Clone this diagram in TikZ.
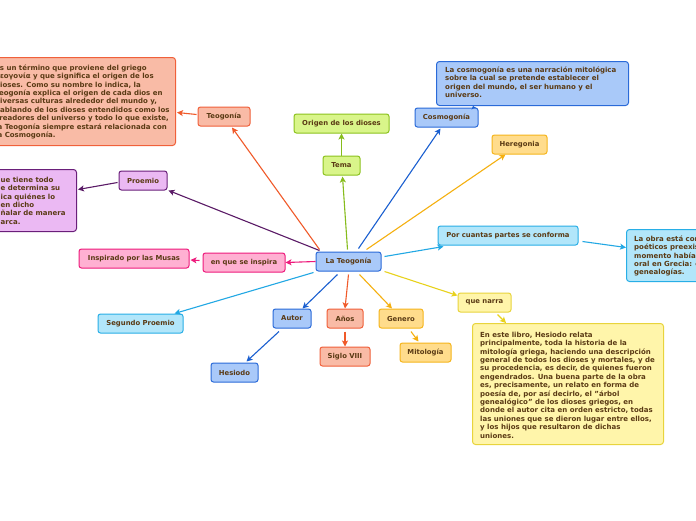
\documentclass[tikz,border=0pt]{standalone}
\usepackage{fontspec}
\setmainfont{DejaVu Sans}
\usetikzlibrary{calc,arrows.meta}
\definecolor{txt}{HTML}{5A3A14}
\definecolor{blF}{HTML}{A9C9F9}\definecolor{blD}{HTML}{2A6AD8}\definecolor{blA}{HTML}{1A5FD0}
\definecolor{saF}{HTML}{F9BBA6}\definecolor{saD}{HTML}{F0603A}\definecolor{saA}{HTML}{F05A2A}
\definecolor{grF}{HTML}{D9F58A}\definecolor{grD}{HTML}{8CC21E}\definecolor{grA}{HTML}{86BC1C}
\definecolor{puF}{HTML}{EBB9F3}\definecolor{puD}{HTML}{6A1F7A}\definecolor{puA}{HTML}{5A1A66}
\definecolor{piF}{HTML}{FFB0D2}\definecolor{piD}{HTML}{EE1A7C}\definecolor{piA}{HTML}{EE1A7C}
\definecolor{cyF}{HTML}{B2E6FA}\definecolor{cyD}{HTML}{28AEE6}\definecolor{cyA}{HTML}{22A8E4}
\definecolor{orF}{HTML}{FFDC8C}\definecolor{orD}{HTML}{F5B51C}\definecolor{orA}{HTML}{F5B010}
\definecolor{yeF}{HTML}{FFF5AA}\definecolor{yeD}{HTML}{E8D43C}\definecolor{yeA}{HTML}{E8D21C}
\tikzset{
  lbl/.style={rounded corners=2.5pt, line width=1pt, inner sep=0pt, text=txt,
    minimum height=19pt, font=\fontsize{6.85}{8}\selectfont\bfseries},
  bigbox/.style={rounded corners=3pt, line width=1pt, inner sep=0pt, anchor=north west},
  bodytext/.style={anchor=north west, inner sep=0pt, align=left, text=txt,
    font=\fontsize{7}{8.4}\selectfont\bfseries},
  arr/.style={-{Stealth[length=6pt,width=6pt,inset=1.5pt]}, line width=1.1pt},
  arrshort/.style={-{Stealth[length=3pt,width=5pt,inset=0.8pt]}, line width=1.1pt},
  bl/.style={lbl, fill=blF, draw=blD},
  sa/.style={lbl, fill=saF, draw=saD},
  gr/.style={lbl, fill=grF, draw=grD},
  pu/.style={lbl, fill=puF, draw=puD},
  pi/.style={lbl, fill=piF, draw=piD},
  cy/.style={lbl, fill=cyF, draw=cyD},
  or/.style={lbl, fill=orF, draw=orD},
  ye/.style={lbl, fill=yeF, draw=yeD}
}
\begin{document}
\begin{tikzpicture}[x=1pt,y=-1pt]
\useasboundingbox (0,0) rectangle (696,520);
\clip (0,0) rectangle (696,520);
\fill[white] (0,0) rectangle (696,520);

% big text boxes
\node[bigbox, fill=saF, draw=saD, minimum width=189pt, minimum height=88pt] (tbox) at (-14,57) {};
\node[bodytext] (tboxt) at (-5,64) {\rule{0pt}{6pt}Es un término que proviene del griego\\θεογονία y que significa el origen de los\\dioses. Como su nombre lo indica, la\\Teogonía explica el origen de cada dios en\\diversas culturas alrededor del mundo y,\\hablando de los dioses entendidos como los\\creadores del universo y todo lo que existe,\\la Teogonía siempre estará relacionada con\\la Cosmogonía.};

\node[bigbox, fill=puF, draw=puD, minimum width=90pt, minimum height=62pt] (pbox) at (-14,169) {};
\node[bodytext] (pboxt) at (0.5,176) {\rule{0pt}{6pt}ue tiene todo\\e determina su\\ica quiénes lo\\en dicho\\ñalar de manera\\arca.};

\node[bigbox, fill=blF, draw=blD, minimum width=192pt, minimum height=44pt] (cbox) at (436,61) {};
\node[bodytext] (cboxt) at (445,66) {\rule{0pt}{6pt}La cosmogonía es una narración mitológica\\sobre la cual se pretende establecer el\\origen del mundo, el ser humano y el\\universo.};

\node[bigbox, fill=cyF, draw=cyD, minimum width=84pt, minimum height=52pt] (rbox) at (626,229) {};
\node[bodytext] (rboxt) at (634,235) {\rule{0pt}{6pt}La obra está compuesta\\poéticos preexistentes\\momento habían sido\\oral en Grecia: cosmogonías\\genealogías.};

\node[bigbox, fill=yeF, draw=yeD, minimum width=191pt, minimum height=121pt] (ybox) at (472,323) {};
\node[bodytext] (yboxt) at (480,331) {\rule{0pt}{6pt}En este libro, Hesiodo relata\\principalmente, toda la historia de la\\mitología griega, haciendo una descripción\\general de todos los dioses y mortales, y de\\su procedencia, es decir, de quienes fueron\\engendrados. Una buena parte de la obra\\es, precisamente, un relato en forma de\\poesía de, por así decirlo, el "árbol\\genealógico" de los dioses griegos, en\\donde el autor cita en orden estricto, todas\\las uniones que se dieron lugar entre ellos,\\y los hijos que resultaron de dichas\\uniones.};

% nodes
\node[bl, minimum width=65pt] (lt) at (348.5,261.5) {La Teogonía};
\node[sa, minimum width=52pt] (teog) at (224,116.5) {Teogonía};
\node[pu, minimum width=48pt] (proe) at (143,180.5) {Proemio};
\node[gr, minimum width=95pt] (orig) at (341.5,123.5) {Origen de los dioses};
\node[gr, minimum width=37pt] (tema) at (341.5,165.5) {Tema};
\node[bl, minimum width=63pt] (cosmo) at (446.5,117.5) {Cosmogonía};
\node[or, minimum width=55pt] (here) at (519.5,144.5) {Heregonia};
\node[cy, minimum width=140pt] (pc) at (508,235.5) {Por cuantas partes se conforma};
\node[ye, minimum width=53pt] (qn) at (484.5,302.5) {que narra};
\node[pi, minimum width=82pt] (enq) at (244,262.5) {en que se inspira};
\node[pi, minimum width=110pt] (musas) at (134,258.5) {Inspirado por las Musas};
\node[cy, minimum width=85pt] (sp) at (140.5,323.5) {Segundo Proemio};
\node[bl, minimum width=38pt] (autor) at (292,318.5) {Autor};
\node[bl, minimum width=47pt] (hes) at (234.5,372.5) {Hesiodo};
\node[sa, minimum width=36pt] (anos) at (345,318.5) {Años};
\node[sa, minimum width=50pt] (siglo) at (345,356.5) {Siglo VIII};
\node[or, minimum width=44pt] (gen) at (401,318.5) {Genero};
\node[or, minimum width=51pt] (mito) at (425.5,352.5) {Mitología};

% connectors
\draw[arr, saA] ($(lt.north west)+(4,-2)$) -- ($(teog.south)+(8,1)$);
\draw[arr, saA] ($(teog.west)+(-1,-2)$) -- ($(tbox.east)+(1,11)$);
\draw[arr, puA] ($(lt.north west)+(4,-1)$) -- ($(proe.south east)+(1,0)$);
\draw[arr, puA] ($(proe.west)+(-1,2)$) -- ($(pbox.east)+(1,-11)$);
\draw[arr, grA] ($(lt.north)+(-1,-2)$) -- ($(tema.south)+(1,1)$);
\draw[arr, grA] (tema.north) -- (orig.south);
\draw[arr, blA] ($(lt.north)+(10,-3)$) -- ($(cosmo.south)+(-6,1)$);
\draw[arrshort, blA] ($(cosmo.north east)+(-5,0)$) -- ($(cbox.south west)+(37,0)$);
\draw[arr, orA] ($(lt.north)+(18,-2)$) -- ($(here.south)+(-14,0)$);
\draw[arr, cyA] ($(lt.east)+(3,-5)$) -- ($(pc.south west)+(6,1)$);
\draw[arr, cyA] ($(pc.east)+(4,6)$) -- ($(rbox.west)+(0,-8)$);
\draw[arr, yeA] ($(lt.east)+(3,10)$) -- ($(qn.north west)+(0,3)$);
\draw[arr, yeA] ($(qn.south)+(13,2)$) -- ($(ybox.north)+(-62,0)$);
\draw[arr, piA] (lt.west) -- (enq.east);
\draw[arr, piA] ($(enq.west)+(-3,-2)$) -- ($(musas.east)+(1,1.5)$);
\draw[arr, cyA] ($(lt.south west)+(-2,1)$) -- ($(sp.north)+(34,0)$);
\draw[arr, blA] ($(lt.south)+(-11,3)$) -- ($(autor.north east)+(-9,0)$);
\draw[arr, blA] ($(autor.south)+(-13,3)$) -- ($(hes.north)+(12,-1)$);
\draw[arr, saA] ($(lt.south)+(0,3)$) -- ($(anos.north)+(0,0)$);
\draw[arr, saA] ($(anos.south)+(0,3)$) -- (siglo.north);
\draw[arr, orA] ($(lt.south)+(11,3)$) -- ($(gen.north)+(-9,0)$);
\draw[arr, orA] ($(gen.south)+(10,3)$) -- ($(mito.north)+(-7,-1)$);
\end{tikzpicture}
\end{document}
